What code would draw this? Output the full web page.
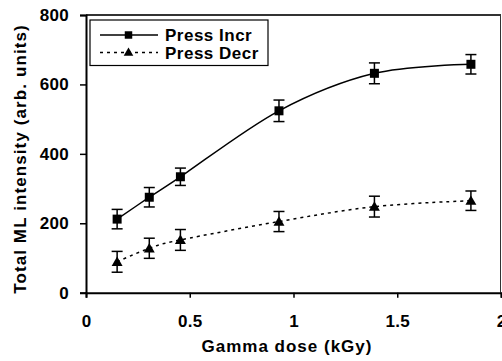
<!doctype html>
<html lang="en">
  <head>
    <meta charset="UTF-8" />
    <title>ML intensity vs gamma dose</title>
    <style>
      body { margin: 0; background: #fff; }
      text { font-family: Arial, "Liberation Sans", sans-serif; font-weight: bold; }
    </style>
  </head>
  <body>
    <div id="target"></div>
    <script src="https://d3js.org/d3.v7.min.js"></script>
    <script>
      /* global d3 */

      // values
      const doses = [0.15, 0.305, 0.455, 0.93, 1.39, 1.855];
      const pressIncr = [212, 275, 334, 524, 632, 658];
      const pressIncrErr = [28, 28, 25, 31, 30, 28];
      const pressDecr = [89, 128, 152, 205, 248, 265];
      const pressDecrErr = [30, 29, 30, 29, 30, 28];
      const xTicks = [0, 0.5, 1, 1.5, 2];
      const yTicks = [0, 200, 400, 600, 800];

      const width = 502,
        height = 361;
      const margin = { left: 86, right: 1, top: 15, bottom: 68.3 };

      const svg = d3
        .select("#target")
        .append("svg")
        .attr("width", width)
        .attr("height", height)
        .attr("viewBox", [0, 0, width, height]);

      const xScale = d3
        .scaleLinear()
        .domain([0, 2])
        .range([margin.left, width - margin.right]);
      const yScale = d3
        .scaleLinear()
        .domain([0, 800])
        .range([height - margin.bottom, margin.top]);

      // plot area frame (top and right)
      svg
        .append("line")
        .attr("x1", xScale(0)).attr("x2", xScale(2))
        .attr("y1", yScale(800)).attr("y2", yScale(800))
        .attr("stroke", "#333")
        .attr("stroke-width", 2);
      svg
        .append("line")
        .attr("x1", xScale(2) - 0.5).attr("x2", xScale(2) - 0.5)
        .attr("y1", yScale(800)).attr("y2", yScale(0))
        .attr("stroke", "#333")
        .attr("stroke-width", 1);

      const yAxis = svg
        .append("g")
        .attr("transform", `translate(${xScale(0)},0)`)
        .call(
          d3
            .axisLeft(yScale)
            .tickValues(yTicks)
            .tickSize(6)
            .tickPadding(11)
            .tickFormat(d3.format("d"))
        );
      const xAxis = svg
        .append("g")
        .attr("transform", `translate(0,${yScale(0)})`)
        .call(
          d3
            .axisBottom(xScale)
            .tickValues(xTicks)
            .tickSize(5)
            .tickPadding(17)
            .tickFormat((d) => String(d))
        );
      [xAxis, yAxis].forEach((ax) => {
        ax.selectAll("path").attr("stroke", "#000").attr("stroke-width", 2);
        ax.selectAll("line").attr("stroke", "#000").attr("stroke-width", 1.5);
        ax.selectAll("text")
          .attr("fill", "#000")
          .style("font-size", "17px")
          .style("letter-spacing", "0.3px");
        ax.attr("font-family", null).attr("font-size", null);
      });

      // axis titles
      svg
        .append("text")
        .attr("x", 287)
        .attr("y", 352)
        .attr("text-anchor", "middle")
        .style("font-size", "17px")
        .style("letter-spacing", "1px")
        .text("Gamma dose (kGy)");
      svg
        .append("text")
        .attr("transform", "translate(26,159) rotate(-90)")
        .attr("text-anchor", "middle")
        .style("font-size", "17px")
        .style("letter-spacing", "1.1px")
        .text("Total ML intensity (arb. units)");

      const series = [
        { name: "Press Incr", values: pressIncr, err: pressIncrErr, dash: null, marker: d3.symbolSquare },
        { name: "Press Decr", values: pressDecr, err: pressDecrErr, dash: "3,4", marker: d3.symbolTriangle },
      ];

      const line = d3
        .line()
        .x((d) => xScale(d[0]))
        .y((d) => yScale(d[1]))
        .curve(d3.curveCardinal.tension(0));

      series.forEach((s) => {
        const pts = doses.map((x, i) => [x, s.values[i], s.err[i]]);
        svg
          .append("path")
          .datum(pts)
          .attr("d", line)
          .attr("fill", "none")
          .attr("stroke", "#000")
          .attr("stroke-width", 1.5)
          .attr("stroke-dasharray", s.dash);

        const g = svg.append("g").attr("stroke", "#000").attr("stroke-width", 1.5);
        pts.forEach(([x, y, e]) => {
          const cx = xScale(x);
          g.append("line")
            .attr("x1", cx).attr("x2", cx)
            .attr("y1", yScale(y - e)).attr("y2", yScale(y + e));
          [y - e, y + e].forEach((v) =>
            g.append("line")
              .attr("x1", cx - 5.5).attr("x2", cx + 5.5)
              .attr("y1", yScale(v)).attr("y2", yScale(v))
          );
        });

        svg
          .append("g")
          .selectAll("path")
          .data(pts)
          .join("path")
          .attr("transform", (d) => `translate(${xScale(d[0])},${yScale(d[1]) + (s.marker === d3.symbolTriangle ? 1 : 0)})`)
          .attr("d", d3.symbol().type(s.marker).size(s.marker === d3.symbolTriangle ? 52 : 81))
          .attr("fill", "#000");
      });

      // legend
      const legend = svg.append("g");
      legend
        .append("rect")
        .attr("x", 90)
        .attr("y", 20)
        .attr("width", 178)
        .attr("height", 45.5)
        .attr("fill", "#fff")
        .attr("stroke", "#000")
        .attr("stroke-width", 1.2);
      series.forEach((s, i) => {
        const ly = 35 + i * 17.5;
        legend
          .append("line")
          .attr("x1", 100).attr("x2", 158)
          .attr("y1", ly).attr("y2", ly)
          .attr("stroke", "#000")
          .attr("stroke-width", 1.5)
          .attr("stroke-dasharray", s.dash);
        legend
          .append("path")
          .attr("transform", `translate(128.5,${ly + (s.marker === d3.symbolTriangle ? 0.5 : 0)})`)
          .attr("d", d3.symbol().type(s.marker).size(s.marker === d3.symbolTriangle ? 40 : 56))
          .attr("fill", "#000");
        legend
          .append("text")
          .attr("x", 165)
          .attr("y", ly + 6)
          .style("font-size", "17px")
          .style("letter-spacing", "0.5px")
          .text(s.name);
      });
    </script>
  </body>
</html>
